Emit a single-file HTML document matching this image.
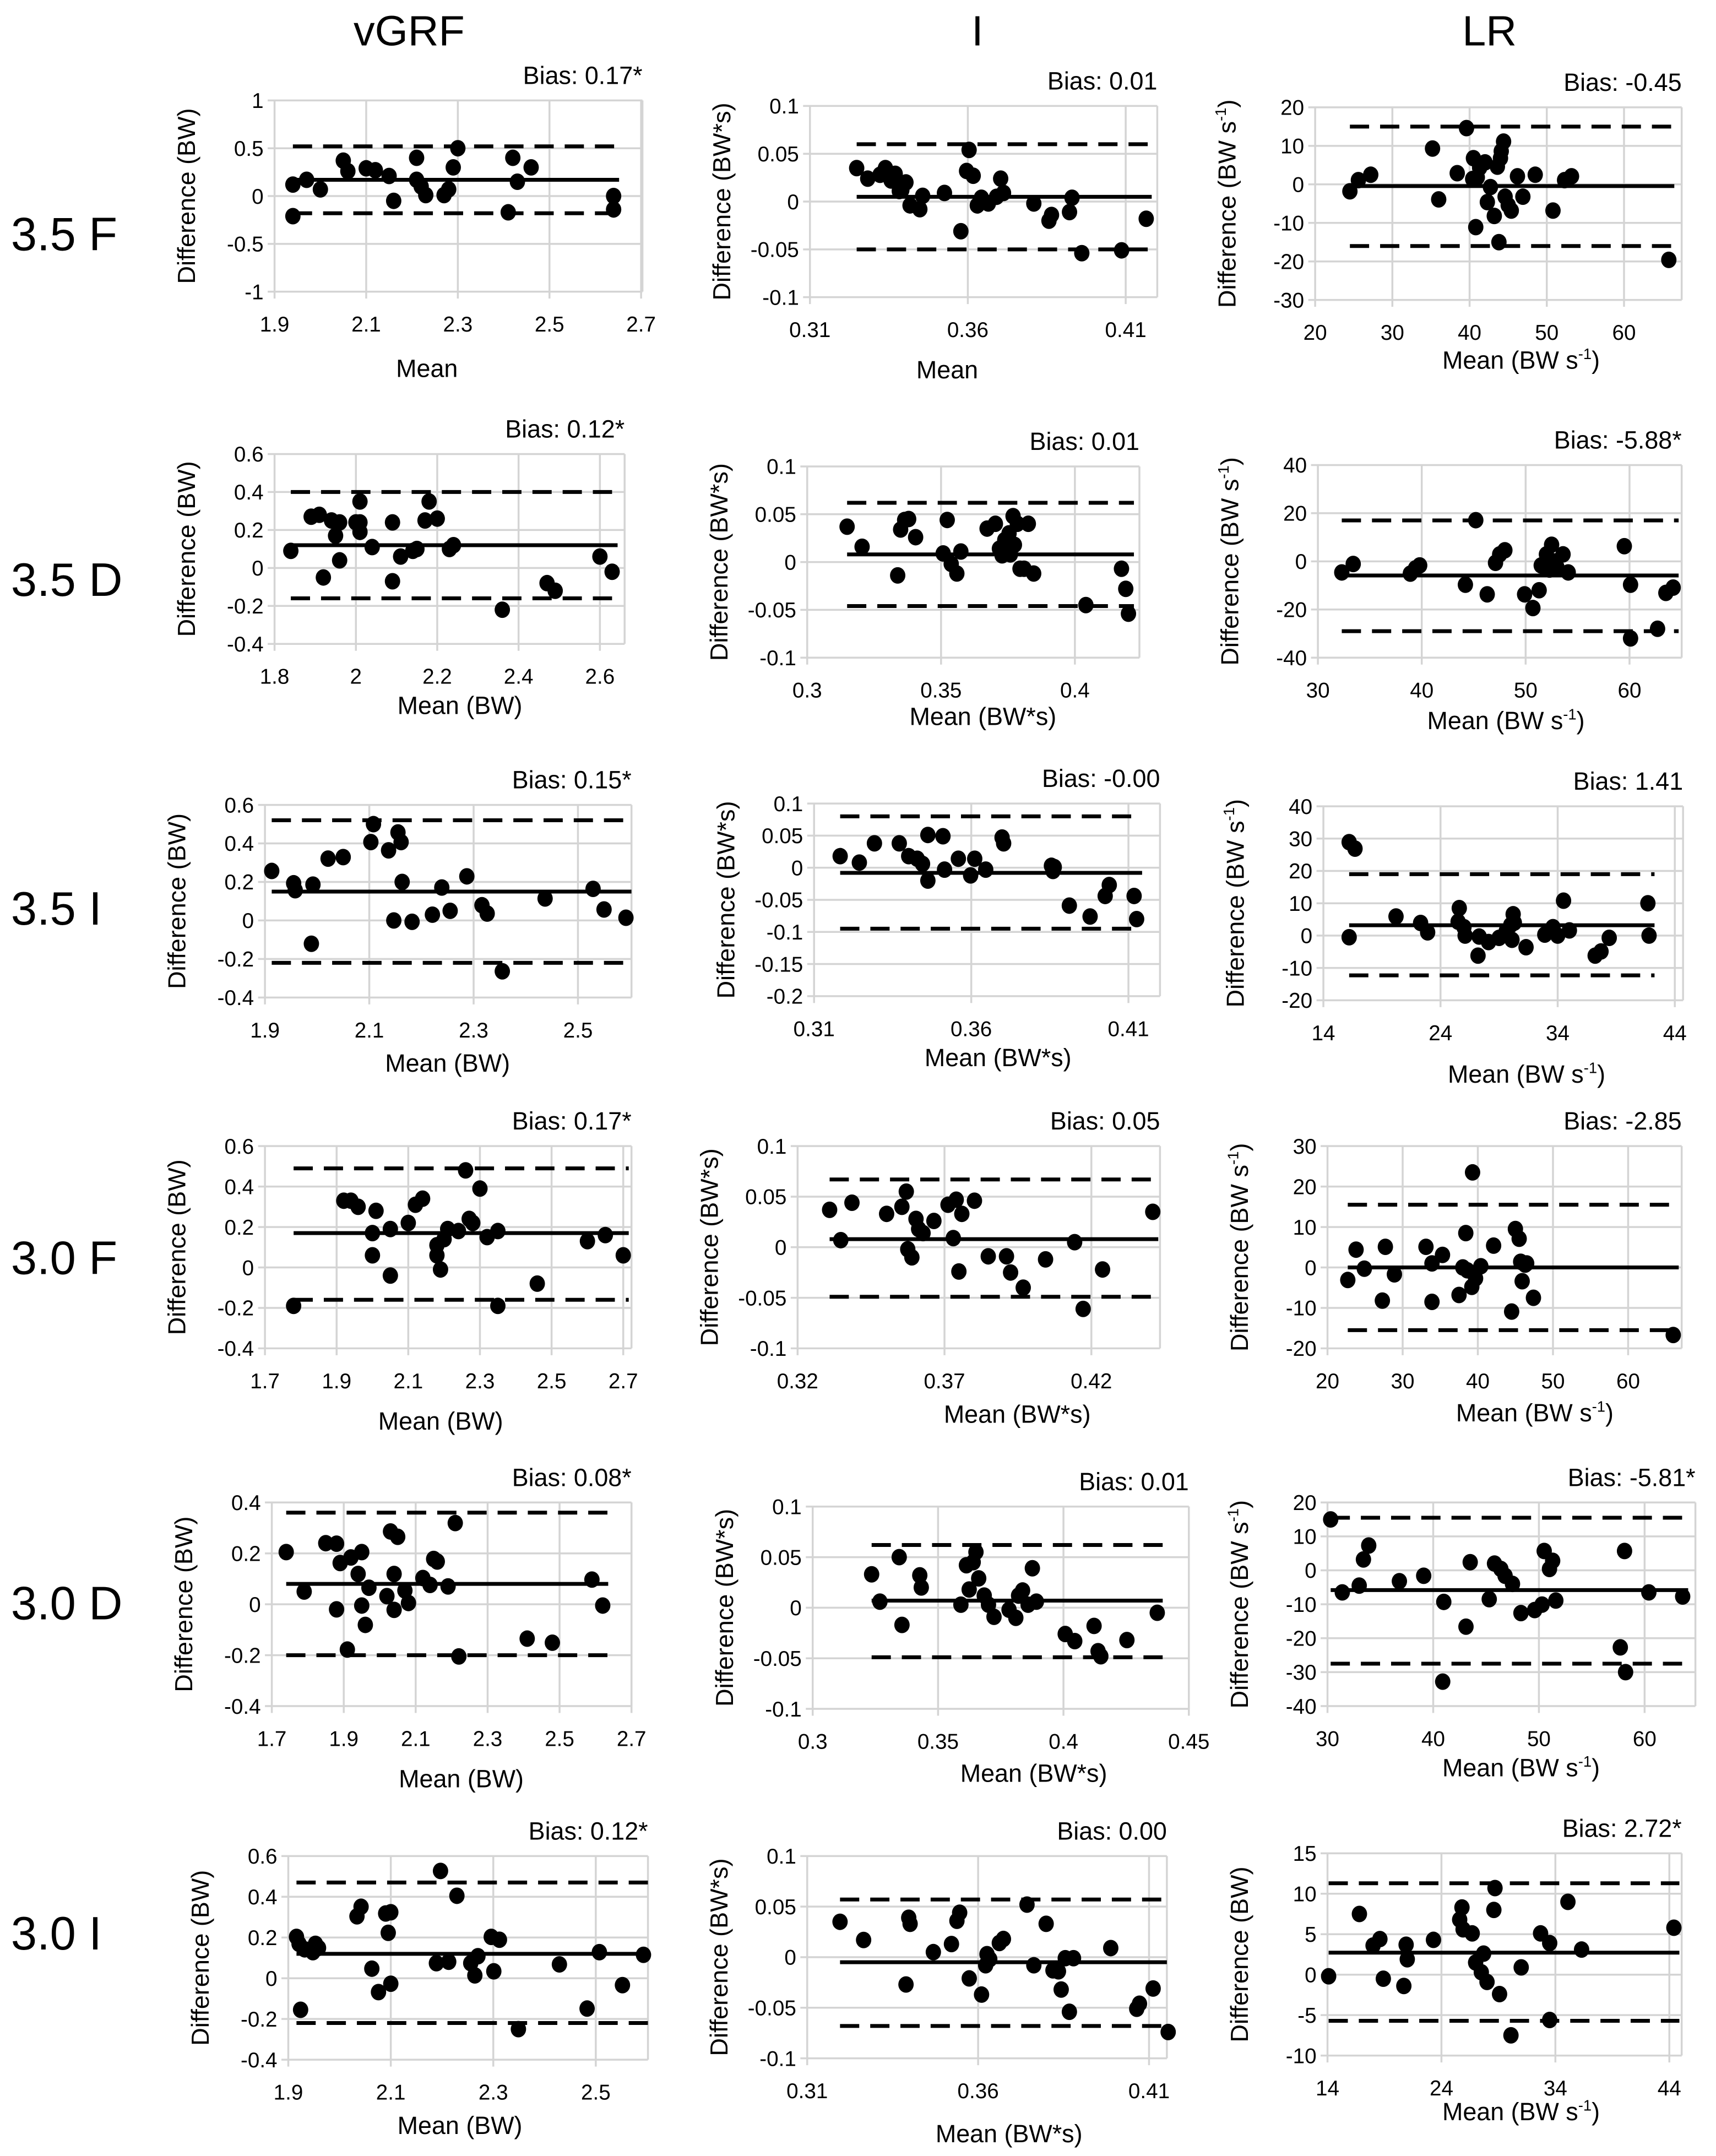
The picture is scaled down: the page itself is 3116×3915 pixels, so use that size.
<!DOCTYPE html>
<html><head><meta charset="utf-8"><title>Bland-Altman plots</title>
<style>
html,body{margin:0;padding:0;background:#fff;}
svg{display:block;}
text{font-family:"Liberation Sans Narrow","Liberation Sans",sans-serif;fill:#000;}
</style></head>
<body>
<svg id="chart" xmlns="http://www.w3.org/2000/svg" width="3116" height="3915" viewBox="0 0 1250 1567" preserveAspectRatio="none">
<rect x="0" y="0" width="1250" height="1567" fill="#fff"/>
<text x="298" y="33" font-size="31" text-anchor="middle">vGRF</text>
<text x="712" y="33" font-size="31" text-anchor="middle">I</text>
<text x="1085" y="33" font-size="31" text-anchor="middle">LR</text>
<text x="8" y="182" font-size="34">3.5 F</text>
<text x="8" y="433" font-size="34">3.5 D</text>
<text x="8" y="672" font-size="34">3.5 I</text>
<text x="8" y="926" font-size="34">3.0 F</text>
<text x="8" y="1177" font-size="34">3.0 D</text>
<text x="8" y="1417" font-size="34">3.0 I</text>
</svg>
<script>
// ---------- data (mean, difference, [bias, upper LoA, lower LoA], ticks) ----------
const p1Mean=[1.94,1.94,1.97,2.00,2.05,2.06,2.10,2.12,2.15,2.16,2.21,2.21,2.22,2.23,2.27,2.28,2.29,2.30,2.41,2.42,2.43,2.46,2.64,2.64];
const p1Diff=[0.12,-0.21,0.17,0.07,0.37,0.26,0.29,0.27,0.21,-0.05,0.40,0.17,0.10,0.01,0.01,0.07,0.30,0.50,-0.17,0.40,0.15,0.30,0.00,-0.14];
const p1Lines=[0.17,0.52,-0.18];
const p1XTicks=[1.9,2.1,2.3,2.5,2.7];
const p1YTicks=[-1,-0.5,0,0.5,1];

const p2Mean=[0.3248,0.3283,0.3322,0.3339,0.3357,0.337,0.3383,0.3391,0.3404,0.3417,0.3448,0.3457,0.3526,0.3578,0.3596,0.3604,0.3617,0.363,0.3643,0.3665,0.3691,0.3704,0.3713,0.3809,0.3857,0.3865,0.3922,0.393,0.3961,0.4087,0.4165];
const p2Diff=[0.035,0.024,0.028,0.035,0.022,0.029,0.011,0.012,0.020,-0.004,-0.008,0.006,0.009,-0.031,0.032,0.054,0.027,-0.004,0.004,-0.002,0.005,0.024,0.009,-0.002,-0.020,-0.014,-0.011,0.004,-0.054,-0.051,-0.018];
const p2Lines=[0.005,0.06,-0.05];
const p2XTicks=[0.31,0.36,0.41];
const p2YTicks=[-0.1,-0.05,0,0.05,0.1];

const p3Mean=[24.5,25.6,27.2,35.2,36.0,38.4,40.5,39.6,40.4,41.0,41.3,40.8,42.0,42.3,42.7,43.2,43.6,44.0,44.4,44.1,44.6,45.0,45.4,46.2,46.9,48.5,50.8,52.3,53.2,65.8,43.8];
const p3Diff=[-1.8,1.1,2.5,9.3,-3.9,2.9,6.8,14.6,1.4,1.8,4.3,-11.1,5.7,-4.6,-0.7,-8.2,4.6,6.8,11.1,8.6,-3.2,-5.4,-6.8,2.1,-3.2,2.5,-6.8,1.1,2.1,-19.6,-15.0];
const p3Lines=[-0.45,15,-16];
const p3XTicks=[20,30,40,50,60];
const p3YTicks=[-30,-20,-10,0,10,20];

const p4Mean=[1.84,1.89,1.91,1.94,1.92,1.95,1.96,1.96,2.00,2.01,2.01,2.01,2.04,2.09,2.09,2.11,2.14,2.15,2.17,2.18,2.20,2.23,2.24,2.36,2.47,2.49,2.60,2.63];
const p4Diff=[0.09,0.27,0.28,0.25,-0.05,0.17,0.04,0.24,0.24,0.19,0.35,0.24,0.11,0.24,-0.07,0.06,0.09,0.10,0.25,0.35,0.26,0.10,0.12,-0.22,-0.08,-0.12,0.06,-0.02];
const p4Lines=[0.12,0.40,-0.16];
const p4XTicks=[1.8,2,2.2,2.4,2.6];
const p4YTicks=[-0.4,-0.2,0,0.2,0.4,0.6];

const p5Mean=[0.3149,0.3205,0.3338,0.3349,0.3364,0.3379,0.3405,0.3508,0.3523,0.3538,0.3559,0.3574,0.3672,0.3703,0.3718,0.3728,0.3738,0.3754,0.3759,0.3769,0.3774,0.3785,0.3795,0.381,0.3826,0.3846,0.4041,0.4174,0.419,0.42];
const p5Diff=[0.037,0.016,-0.014,0.034,0.044,0.045,0.026,0.009,0.044,-0.002,-0.012,0.011,0.035,0.040,0.014,0.007,0.023,0.030,0.008,0.048,0.018,0.040,-0.007,-0.007,0.040,-0.012,-0.045,-0.007,-0.028,-0.054];
const p5Lines=[0.008,0.062,-0.046];
const p5XTicks=[0.3,0.35,0.4];
const p5YTicks=[-0.1,-0.05,0,0.05,0.1];

const p6Mean=[32.3,33.4,38.9,39.4,39.8,44.2,45.2,46.3,47.1,47.5,48.0,49.9,50.7,51.3,51.5,52.0,52.3,52.5,52.9,53.0,53.6,54.1,59.5,60.1,60.1,62.7,63.5,64.2];
const p6Diff=[-4.6,-1.1,-5.1,-2.9,-1.7,-9.7,17.1,-13.7,-0.6,2.9,4.6,-13.7,-19.4,-12.0,-1.7,2.9,-3.4,6.9,0,-2.3,2.9,-4.6,6.3,-9.7,-32,-28,-13.1,-10.9];
const p6Lines=[-5.88,17,-29];
const p6XTicks=[30,40,50,60];
const p6YTicks=[-40,-20,0,20,40];

const p7Mean=[1.913,1.955,1.958,1.992,1.989,2.021,2.05,2.103,2.108,2.137,2.155,2.161,2.147,2.163,2.182,2.221,2.239,2.255,2.287,2.316,2.326,2.355,2.437,2.529,2.55,2.592];
const p7Diff=[0.257,0.193,0.157,0.186,-0.121,0.321,0.329,0.407,0.5,0.364,0.457,0.407,0,0.2,-0.007,0.03,0.171,0.05,0.229,0.079,0.036,-0.264,0.114,0.164,0.057,0.014];
const p7Lines=[0.15,0.52,-0.22];
const p7XTicks=[1.9,2.1,2.3,2.5];
const p7YTicks=[-0.4,-0.2,0,0.2,0.4,0.6];

const p8Mean=[0.3183,0.3244,0.3292,0.3371,0.3401,0.3428,0.3445,0.3462,0.3462,0.351,0.3515,0.3559,0.3598,0.3611,0.3646,0.3698,0.3703,0.3855,0.3864,0.386,0.3912,0.3978,0.4026,0.4039,0.4118,0.4126];
const p8Diff=[0.018,0.008,0.038,0.038,0.018,0.014,0.006,0.051,-0.02,0.049,-0.003,0.014,-0.012,0.014,-0.003,0.047,0.038,0.003,0.001,-0.005,-0.059,-0.076,-0.044,-0.027,-0.044,-0.08];
const p8Lines=[-0.008,0.08,-0.095];
const p8XTicks=[0.31,0.36,0.41];
const p8YTicks=[-0.2,-0.15,-0.1,-0.05,0,0.05,0.1];

const p9Mean=[16.2,16.7,16.2,20.2,22.3,22.9,25.6,25.5,26.0,26.1,27.3,27.2,28.1,29.0,29.6,30.0,30.2,30.3,30.1,31.3,32.9,33.6,34.0,34.5,35.0,37.2,37.7,38.4,41.7,41.8];
const p9Diff=[28.9,26.9,-0.5,5.9,3.9,1.0,8.5,4.3,2.6,0,-0.3,-6.2,-2.0,-0.7,1.3,3.3,6.6,4.0,-1.3,-3.6,0.3,2.6,0,10.8,1.6,-6.2,-4.9,-0.7,10.0,0];
const p9Lines=[3.2,19,-12.3];
const p9XTicks=[14,24,34,44];
const p9YTicks=[-20,-10,0,10,20,30,40];

const p10Mean=[1.78,1.92,1.94,1.96,2.00,2.00,2.01,2.05,2.05,2.10,2.12,2.14,2.18,2.18,2.19,2.20,2.21,2.24,2.26,2.27,2.28,2.30,2.32,2.35,2.35,2.46,2.60,2.65,2.70];
const p10Diff=[-0.19,0.33,0.33,0.30,0.17,0.06,0.28,0.19,-0.04,0.22,0.31,0.34,0.11,0.06,-0.01,0.14,0.19,0.18,0.48,0.24,0.22,0.39,0.15,-0.19,0.18,-0.08,0.13,0.16,0.06];
const p10Lines=[0.17,0.49,-0.16];
const p10XTicks=[1.7,1.9,2.1,2.3,2.5,2.7];
const p10YTicks=[-0.4,-0.2,0,0.2,0.4,0.6];

const p11Mean=[0.3309,0.3347,0.3385,0.3503,0.3555,0.357,0.3575,0.3589,0.3603,0.3612,0.3627,0.3664,0.3712,0.373,0.374,0.3749,0.3759,0.3802,0.3849,0.3911,0.3925,0.3968,0.4044,0.4143,0.4172,0.4238,0.4409];
const p11Diff=[0.037,0.007,0.044,0.033,0.040,0.055,-0.002,-0.010,0.028,0.018,0.014,0.026,0.042,0.009,0.047,-0.024,0.033,0.046,-0.009,-0.009,-0.025,-0.040,-0.012,0.005,-0.061,-0.022,0.035];
const p11Lines=[0.008,0.067,-0.049];
const p11XTicks=[0.32,0.37,0.42];
const p11YTicks=[-0.1,-0.05,0,0.05,0.1];

const p12Mean=[22.7,23.8,24.9,27.3,27.7,28.9,33.1,33.9,33.9,35.3,37.5,38.0,38.4,38.6,39.2,39.3,39.7,40.4,42.1,44.5,45.0,45.5,45.7,45.9,46.3,46.5,47.4,66.0];
const p12Diff=[-3.1,4.4,-0.3,-8.2,5.1,-1.7,5.1,1.0,-8.5,3.1,-6.8,0,8.5,-0.7,-4.8,23.5,-2.7,0.3,5.4,-10.9,9.5,7.1,1.4,-3.4,0.7,1.0,-7.5,-16.7];
const p12Lines=[0,15.5,-15.5];
const p12XTicks=[20,30,40,50,60];
const p12YTicks=[-20,-10,0,10,20,30];

const p13Mean=[1.74,1.79,1.85,1.88,1.88,1.89,1.91,1.92,1.94,1.95,1.95,1.96,1.97,2.02,2.03,2.04,2.04,2.05,2.07,2.08,2.12,2.14,2.15,2.16,2.19,2.21,2.22,2.41,2.48,2.59,2.62];
const p13Diff=[0.205,0.05,0.24,0.238,-0.02,0.162,-0.178,0.184,0.119,-0.005,0.205,-0.081,0.065,0.032,0.286,0.119,-0.022,0.265,0.054,0.005,0.103,0.076,0.178,0.168,0.070,0.319,-0.205,-0.135,-0.151,0.097,-0.005];
const p13Lines=[0.08,0.36,-0.2];
const p13XTicks=[1.7,1.9,2.1,2.3,2.5,2.7];
const p13YTicks=[-0.4,-0.2,0,0.2,0.4];

const p14Mean=[0.3235,0.3268,0.3345,0.3356,0.3427,0.3433,0.3591,0.3613,0.3624,0.364,0.3651,0.3662,0.3684,0.3701,0.3723,0.3783,0.381,0.3821,0.3837,0.3859,0.3876,0.3892,0.4007,0.4045,0.4122,0.4138,0.4149,0.4253,0.4374];
const p14Diff=[0.033,0.006,0.050,-0.017,0.032,0.020,0.003,0.042,0.018,0.045,0.055,0.029,0.012,0.003,-0.009,-0.002,-0.010,0.012,0.017,0.003,0.039,0.006,-0.026,-0.033,-0.018,-0.043,-0.048,-0.032,-0.005];
const p14Lines=[0.007,0.062,-0.049];
const p14XTicks=[0.3,0.35,0.4,0.45];
const p14YTicks=[-0.1,-0.05,0,0.05,0.1];

const p15Mean=[30.3,31.4,33.0,33.4,33.9,36.8,39.1,41.0,40.9,43.1,43.5,45.3,45.8,46.4,46.8,47.5,48.3,49.6,50.3,50.5,51.0,51.3,51.6,57.7,58.1,58.2,60.4,63.6];
const p15Diff=[15.0,-6.5,-4.5,3.2,7.3,-3.2,-1.6,-9.3,-32.8,-16.6,2.4,-8.5,2.0,0.4,-1.6,-4.0,-12.6,-11.7,-10.1,5.7,0.4,2.8,-8.9,-22.7,5.7,-30,-6.5,-7.7];
const p15Lines=[-5.81,15.5,-27.5];
const p15XTicks=[30,40,50,60];
const p15YTicks=[-40,-30,-20,-10,0,10,20];

const p16Mean=[1.916,1.921,1.924,1.932,1.948,1.953,1.959,2.034,2.042,2.063,2.076,2.09,2.095,2.1,2.1,2.189,2.197,2.213,2.229,2.256,2.264,2.27,2.296,2.312,2.301,2.349,2.429,2.507,2.483,2.552,2.593];
const p16Diff=[0.203,0.169,-0.155,0.142,0.128,0.169,0.149,0.304,0.351,0.047,-0.068,0.318,0.223,0.324,-0.027,0.074,0.527,0.081,0.405,0.074,0.014,0.108,0.203,0.189,0.034,-0.25,0.068,0.128,-0.149,-0.034,0.115];
const p16Lines=[0.12,0.47,-0.22];
const p16XTicks=[1.9,2.1,2.3,2.5];
const p16YTicks=[-0.4,-0.2,0,0.2,0.4,0.6];

const p17Mean=[0.3196,0.3265,0.3389,0.3397,0.3401,0.3469,0.3522,0.3538,0.3546,0.3574,0.361,0.3622,0.3626,0.3634,0.3662,0.3674,0.3743,0.3763,0.3799,0.3819,0.3835,0.3843,0.3855,0.3867,0.3879,0.3988,0.4064,0.4072,0.4112,0.4156];
const p17Diff=[0.035,0.017,-0.027,0.039,0.033,0.005,0.013,0.036,0.044,-0.021,-0.037,-0.008,0.003,-0.002,0.014,0.018,0.052,-0.008,0.033,-0.013,-0.014,-0.032,-0.001,-0.054,-0.001,0.009,-0.051,-0.046,-0.031,-0.074];
const p17Lines=[-0.005,0.057,-0.068];
const p17XTicks=[0.31,0.36,0.41];
const p17YTicks=[-0.1,-0.05,0,0.05,0.1];

const p18Mean=[14.1,16.8,18.0,18.6,18.9,20.7,20.9,21.0,23.3,25.6,25.8,25.9,26.7,27.0,27.5,27.7,28.0,28.6,28.7,29.1,30.1,31.0,32.7,33.5,33.5,35.1,36.3,44.4];
const p18Diff=[-0.2,7.5,3.6,4.4,-0.5,-1.4,3.7,1.9,4.3,6.8,8.3,5.6,5.1,1.5,0.3,2.6,-0.9,8.0,10.7,-2.4,-7.5,0.9,5.1,-5.6,3.9,9.0,3.1,5.8];
const p18Lines=[2.72,11.3,-5.7];
const p18XTicks=[14,24,34,44];
const p18YTicks=[-10,-5,0,5,10,15];

// ---------- layout (pixel mapping & styling only) ----------
const panels=[
 {id:'vgrf-3-5-f',mean:p1Mean,diff:p1Diff,lines:p1Lines,xt:p1XTicks,yt:p1YTicks,bias:'Bias: 0.17*',fx:[1.9,200,2.7,467],fy:[-1,212,1,73],fr:[200,73,468,212],xl:'Mean',xu:'',xlp:[311,274],yu:'BW'},
 {id:'i-3-5-f',mean:p2Mean,diff:p2Diff,lines:p2Lines,xt:p2XTicks,yt:p2YTicks,bias:'Bias: 0.01',fx:[0.31,590,0.41,820],fy:[-0.1,216,0.1,77],fr:[590,77,843,216],xl:'Mean',xu:'',xlp:[690,275],yu:'BW*s'},
 {id:'lr-3-5-f',mean:p3Mean,diff:p3Diff,lines:p3Lines,xt:p3XTicks,yt:p3YTicks,bias:'Bias: -0.45',fx:[20,958,60,1183],fy:[-30,218,20,78],fr:[958,78,1225,218],xl:'Mean',xu:'s',xlp:[1108,268],yu:'s'},
 {id:'vgrf-3-5-d',mean:p4Mean,diff:p4Diff,lines:p4Lines,xt:p4XTicks,yt:p4YTicks,bias:'Bias: 0.12*',fx:[1.8,200,2.6,437],fy:[-0.4,468,0.6,330],fr:[200,330,455,468],xl:'Mean',xu:'BW',xlp:[335,519],yu:'BW'},
 {id:'i-3-5-d',mean:p5Mean,diff:p5Diff,lines:p5Lines,xt:p5XTicks,yt:p5YTicks,bias:'Bias: 0.01',fx:[0.3,588,0.4,783],fy:[-0.1,478,0.1,339],fr:[588,339,830,478],xl:'Mean',xu:'BW*s',xlp:[716,527],yu:'BW*s'},
 {id:'lr-3-5-d',mean:p6Mean,diff:p6Diff,lines:p6Lines,xt:p6XTicks,yt:p6YTicks,bias:'Bias: -5.88*',fx:[30,960,60,1187],fy:[-40,478,40,338],fr:[960,338,1225,478],xl:'Mean',xu:'s',xlp:[1097,530],yu:'s'},
 {id:'vgrf-3-5-i',mean:p7Mean,diff:p7Diff,lines:p7Lines,xt:p7XTicks,yt:p7YTicks,bias:'Bias: 0.15*',fx:[1.9,193,2.5,421],fy:[-0.4,725,0.6,585],fr:[193,585,460,725],xl:'Mean',xu:'BW',xlp:[326,779],yu:'BW'},
 {id:'i-3-5-i',mean:p8Mean,diff:p8Diff,lines:p8Lines,xt:p8XTicks,yt:p8YTicks,bias:'Bias: -0.00',fx:[0.31,593,0.41,822],fy:[-0.2,724,0.1,584],fr:[593,584,845,724],xl:'Mean',xu:'BW*s',xlp:[727,775],yu:'BW*s'},
 {id:'lr-3-5-i',mean:p9Mean,diff:p9Diff,lines:p9Lines,xt:p9XTicks,yt:p9YTicks,bias:'Bias: 1.41',fx:[14,964,44,1220],fy:[-20,727,40,586],fr:[964,586,1226,727],xl:'Mean',xu:'s',xlp:[1112,787],yu:'s'},
 {id:'vgrf-3-0-f',mean:p10Mean,diff:p10Diff,lines:p10Lines,xt:p10XTicks,yt:p10YTicks,bias:'Bias: 0.17*',fx:[1.7,193,2.7,454],fy:[-0.4,980,0.6,833],fr:[193,833,460,980],xl:'Mean',xu:'BW',xlp:[321,1039],yu:'BW'},
 {id:'i-3-0-f',mean:p11Mean,diff:p11Diff,lines:p11Lines,xt:p11XTicks,yt:p11YTicks,bias:'Bias: 0.05',fx:[0.32,581,0.42,795],fy:[-0.1,980,0.1,833],fr:[581,833,845,980],xl:'Mean',xu:'BW*s',xlp:[741,1034],yu:'BW*s'},
 {id:'lr-3-0-f',mean:p12Mean,diff:p12Diff,lines:p12Lines,xt:p12XTicks,yt:p12YTicks,bias:'Bias: -2.85',fx:[20,967,60,1186],fy:[-20,980,30,833],fr:[967,833,1225,980],xl:'Mean',xu:'s',xlp:[1118,1033],yu:'s'},
 {id:'vgrf-3-0-d',mean:p13Mean,diff:p13Diff,lines:p13Lines,xt:p13XTicks,yt:p13YTicks,bias:'Bias: 0.08*',fx:[1.7,198,2.7,460],fy:[-0.4,1240,0.4,1092],fr:[198,1092,460,1240],xl:'Mean',xu:'BW',xlp:[336,1299],yu:'BW'},
 {id:'i-3-0-d',mean:p14Mean,diff:p14Diff,lines:p14Lines,xt:p14XTicks,yt:p14YTicks,bias:'Bias: 0.01',fx:[0.3,592,0.45,866],fy:[-0.1,1242,0.1,1095],fr:[592,1095,866,1242],xl:'Mean',xu:'BW*s',xlp:[753,1295],yu:'BW*s'},
 {id:'lr-3-0-d',mean:p15Mean,diff:p15Diff,lines:p15Lines,xt:p15XTicks,yt:p15YTicks,bias:'Bias: -5.81*',fx:[30,967,60,1198],fy:[-40,1240,20,1092],fr:[967,1092,1235,1240],xl:'Mean',xu:'s',xlp:[1108,1291],yu:'s'},
 {id:'vgrf-3-0-i',mean:p16Mean,diff:p16Diff,lines:p16Lines,xt:p16XTicks,yt:p16YTicks,bias:'Bias: 0.12*',fx:[1.9,210,2.5,434],fy:[-0.4,1497,0.6,1349],fr:[210,1349,472,1497],xl:'Mean',xu:'BW',xlp:[335,1551],yu:'BW'},
 {id:'i-3-0-i',mean:p17Mean,diff:p17Diff,lines:p17Lines,xt:p17XTicks,yt:p17YTicks,bias:'Bias: 0.00',fx:[0.31,588,0.41,837],fy:[-0.1,1496,0.1,1349],fr:[588,1349,850,1496],xl:'Mean',xu:'BW*s',xlp:[735,1557],yu:'BW*s'},
 {id:'lr-3-0-i',mean:p18Mean,diff:p18Diff,lines:p18Lines,xt:p18XTicks,yt:p18YTicks,bias:'Bias: 2.72*',fx:[14,967,44,1216],fy:[-10,1494,15,1347],fr:[967,1347,1225,1494],xl:'Mean',xu:'s',xlp:[1108,1541],yu:'BW'}
];

const NS='http://www.w3.org/2000/svg';
const svg=document.getElementById('chart');
function mk(tag,attrs,parent){const e=document.createElementNS(NS,tag);for(const k in attrs)e.setAttribute(k,attrs[k]);parent.appendChild(e);return e;}
function lab(v){return String(Math.round(v*10000)/10000);}
function addUnitText(t,prefix,unit){
  if(unit==='s'){
    t.appendChild(document.createTextNode(prefix+' (BW s'));
    const sup=mk('tspan',{'font-size':'11','dy':'-7'},t);
    sup.textContent='-1';
    const rest=mk('tspan',{'dy':'7'},t);
    rest.textContent=')';
  } else if(unit===''){
    t.appendChild(document.createTextNode(prefix));
  } else {
    t.appendChild(document.createTextNode(prefix+' ('+unit+')'));
  }
}

panels.forEach(p=>{
  const sx=v=>p.fx[1]+(v-p.fx[0])*(p.fx[3]-p.fx[1])/(p.fx[2]-p.fx[0]);
  const sy=v=>p.fy[1]+(v-p.fy[0])*(p.fy[3]-p.fy[1])/(p.fy[2]-p.fy[0]);
  const [L,T,R,B]=p.fr;
  const g=mk('g',{},svg);
  
  

  p.xt.forEach(v=>{
    const x=sx(v);
    const gl=mk('line',{x1:x,x2:x,y1:T,y2:B+5,stroke:'#d4d4d4','stroke-width':1.4},g);
    
    
    const tl=mk('text',{x:x,y:B+29,'font-size':15.5,'text-anchor':'middle'},g);
    
    
    tl.textContent=lab(v);
  });
  p.yt.forEach(v=>{
    const y=sy(v);
    const gl=mk('line',{x1:L-5,x2:R,y1:y,y2:y,stroke:'#d4d4d4','stroke-width':1.4},g);
    
    
    const tl=mk('text',{x:L-8,y:y+5.5,'font-size':15.5,'text-anchor':'end'},g);
    
    
    tl.textContent=lab(v);
  });
  const rb=mk('line',{x1:R,x2:R,y1:T,y2:B,stroke:'#d4d4d4','stroke-width':1.4},g);
  
  

  const xmin=Math.min(...p.mean), xmax=Math.max(...p.mean);
  const x1=sx(xmin), x2=Math.min(R, sx(xmax)+4);
  const bl=mk('line',{x1:x1,x2:x2,y1:sy(p.lines[0]),y2:sy(p.lines[0]),stroke:'#000','stroke-width':2.8},g);
  
  
  const ul=mk('line',{x1:x1,x2:x2,y1:sy(p.lines[1]),y2:sy(p.lines[1]),stroke:'#000','stroke-width':2.8,'stroke-dasharray':'14 8'},g);
  
  
  const ll=mk('line',{x1:x1,x2:x2,y1:sy(p.lines[2]),y2:sy(p.lines[2]),stroke:'#000','stroke-width':2.8,'stroke-dasharray':'14 8'},g);
  
  

  p.mean.forEach((m,i)=>{
    const c=mk('ellipse',{cx:sx(m),cy:sy(p.diff[i]),rx:5.6,ry:6,fill:'#000'},g);
    
    
  });

  const bt=mk('text',{x:R,y:T-12,'font-size':18,'text-anchor':'end'},g);
  
  
  bt.textContent=p.bias;

  const xt=mk('text',{x:p.xlp[0],y:p.xlp[1],'font-size':18,'text-anchor':'middle'},g);
  
  
  addUnitText(xt,p.xl,p.xu);

  const cy=(T+B)/2, tx=L-58;
  const yt=mk('text',{x:tx,y:cy,'font-size':18,'text-anchor':'middle',transform:'rotate(-90 '+tx+' '+cy+')'},g);
  
  
  addUnitText(yt,'Difference',p.yu);
});
</script>
</body></html>
